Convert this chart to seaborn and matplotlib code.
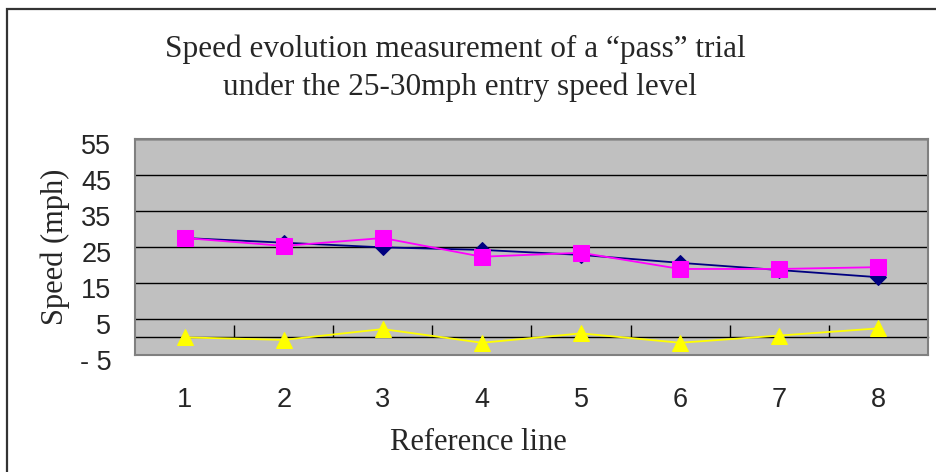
import matplotlib
matplotlib.use("Agg")
import matplotlib.pyplot as plt
import matplotlib.transforms as mtransforms
from matplotlib.patches import Rectangle
import seaborn as sns
import pandas as pd
import numpy as np

reference_lines = [1, 2, 3, 4, 5, 6, 7, 8]
series_a = [27.5, 26.2, 24.9, 24.2, 22.8, 20.6, 18.6, 16.6]   # navy diamonds
series_b = [27.5, 25.3, 27.5, 22.3, 23.4, 18.9, 18.9, 19.4]   # magenta squares
series_c = [-0.1, -0.8, 2.2, -1.6, 1.0, -1.6, 0.4, 2.4]       # yellow triangles
y_ticks = [-5, 5, 15, 25, 35, 45, 55]
y_tick_labels = ["- 5", "5", "15", "25", "35", "45", "55"]

sns.set_style("white")
plt.rcParams["font.family"] = ["Liberation Sans", "DejaVu Sans"]

fig = plt.figure(figsize=(9.37, 4.72), dpi=100)
fig.patch.set_facecolor("white")
# outer chart frame (partially cropped)
fig.add_artist(Rectangle((7 / 937, -0.1), 1.2, 1 - 9 / 472 + 0.1,
                         transform=fig.transFigure, fill=False,
                         edgecolor="#333333", linewidth=1.6))

ax = fig.add_axes([135 / 937, 117 / 472, 793 / 937, 216 / 472])
ax.set_facecolor("#C0C0C0")

x_pos = list(range(len(reference_lines)))
df = pd.DataFrame({"x": x_pos, "a": series_a, "b": series_b, "c": series_c})

sns.lineplot(data=df, x="x", y="a", ax=ax, color="#000080", marker="D",
             markersize=8.5, markeredgecolor="#000080", linewidth=1.3, zorder=3)
sns.lineplot(data=df, x="x", y="b", ax=ax, color="#FF00FF", marker="s",
             markersize=11, markeredgecolor="#FF00FF", linewidth=1.3, zorder=4)
sns.lineplot(data=df, x="x", y="c", ax=ax, color="#FFFF00", marker="^",
             markersize=11.5, markeredgecolor="#FFFF00", linewidth=1.3, zorder=4)

ax.set_xlim(-0.5, len(reference_lines) - 0.5)
ax.set_ylim(-5, 55)
ax.set_yticks(y_ticks)
ax.set_yticklabels(y_tick_labels)
ax.set_xticks(x_pos)
ax.set_xticklabels([str(v) for v in reference_lines])
ax.grid(axis="y", color="black", linewidth=1.0)
ax.set_axisbelow(True)
ax.tick_params(axis="x", length=0, pad=23, labelsize=19.5)
ax.tick_params(axis="y", length=0, pad=17, labelsize=19.5)
for lbl in ax.get_yticklabels():
    lbl.set_transform(lbl.get_transform() +
                      mtransforms.ScaledTranslation(0, -5 / 100, fig.dpi_scale_trans))

for sp in ax.spines.values():
    sp.set_visible(True)
    sp.set_color("#808080")
    sp.set_linewidth(1.5)

# category axis crossing at zero with tick marks between categories
sec = ax.secondary_xaxis(5 / 60)
sec.set_xticks([i + 0.5 for i in x_pos[:-1]])
sec.set_xticklabels([])
sec.tick_params(direction="in", length=9, width=1.0, color="black")
sec.spines["bottom"].set_color("black")
sec.spines["bottom"].set_linewidth(1.0)

ax.set_xlabel("Reference line", family=["Liberation Serif"], fontsize=22)
ax.xaxis.set_label_coords((478 - 135) / 793, (472 - 443 - 117) / 216)
ax.xaxis.label.set_va("center")
ax.set_ylabel("Speed (mph)", family=["Liberation Serif"], fontsize=22)
ax.yaxis.set_label_coords((55 - 135) / 793, 0.5)
ax.yaxis.label.set_va("center")

fig.text(455 / 937, 1 - 49 / 472, "Speed evolution measurement of a \u201cpass\u201d trial",
         ha="center", va="center", family=["Liberation Serif"], fontsize=22.5)
fig.text(460 / 937, 1 - 87 / 472, "under the 25-30mph entry speed level",
         ha="center", va="center", family=["Liberation Serif"], fontsize=22.5)

fig.savefig("out.png", dpi=100)
